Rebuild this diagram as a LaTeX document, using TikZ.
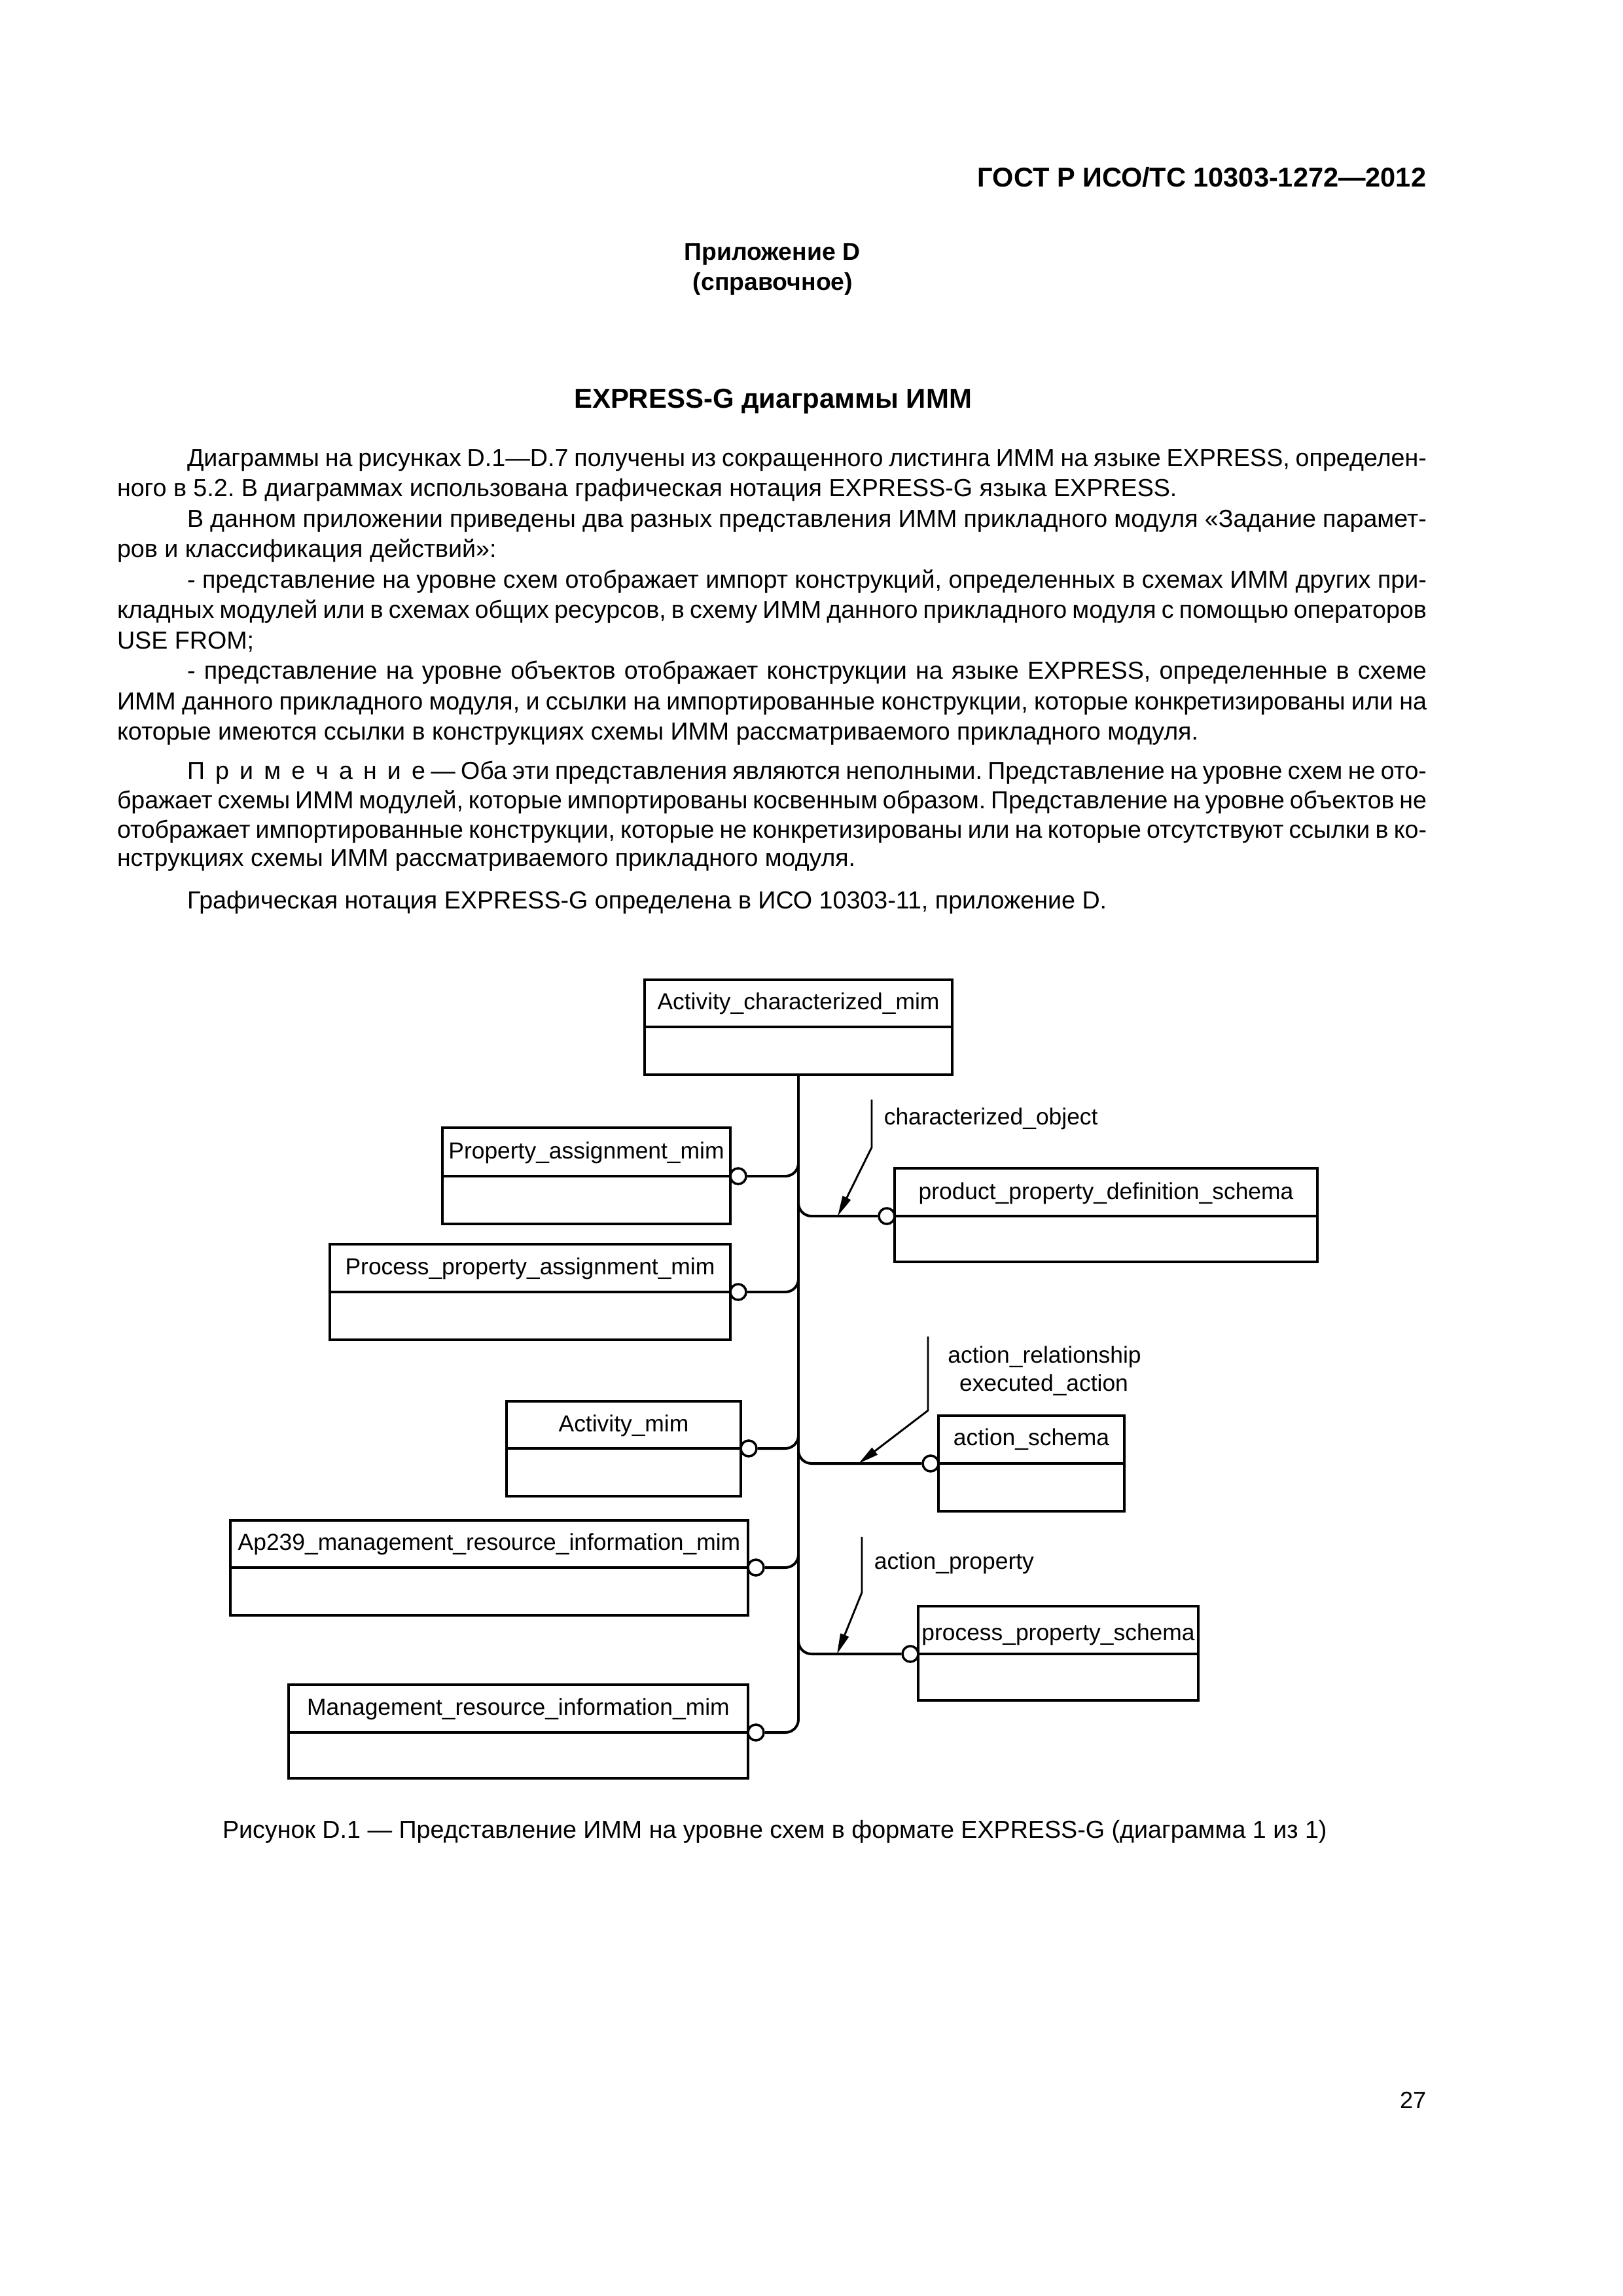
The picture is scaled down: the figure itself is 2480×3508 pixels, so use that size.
\documentclass[tikz,border=0pt]{standalone}
\usepackage{fontspec}
\setmainfont{Liberation Sans}
\usetikzlibrary{arrows.meta,calc,fit}
\frenchspacing
\newcommand\bodyfont{\fontsize{9.07}{11}\selectfont\frenchspacing\spaceskip=0.278em plus 0.4em minus 0.12em\relax}
\newcommand\notefont{\fontsize{9.03}{11}\selectfont\frenchspacing\spaceskip=0.278em plus 0.4em minus 0.13em\relax}
\newcommand\diafont{\fontsize{8.53}{10}\selectfont}
\newcommand\lsp{\kern3.9pt}
\newcommand\ent[8]{%
  \node[ebox, fit={(#2,#3) (#4,#6)}] (#1) {};
  \draw[boxline] (#2,#5) -- (#4,#5);
  \node[etext] (#1-t) at ({(#2+#4)/2},#7) {#8};
}
\begin{document}
\begin{tikzpicture}[x=0.0846667mm, y=-0.0846667mm,
  txt/.style={inner sep=0, outer sep=0, anchor=base west, font=\bodyfont},
  ntxt/.style={inner sep=0, outer sep=0, anchor=base west, font=\notefont},
  ebox/.style={draw, line width=1.05pt, inner sep=0, outer sep=0, rectangle},
  boxline/.style={line width=1.05pt},
  etext/.style={inner sep=0, anchor=base, font=\diafont},
  ltext/.style={inner sep=0, font=\diafont},
  ring/.style={circle, draw, fill=white, minimum size=5.8pt, inner sep=0, line width=0.85pt},
  conn/.style={line width=0.95pt, rounded corners=4.8pt},
  callout/.style={line width=0.7pt, -{Triangle[length=7.5pt,width=3.2pt]}}
]
\fill[white] (0,0) rectangle (2480,3508);
\useasboundingbox (0,0) rectangle (2480,3508);

% header
\node[inner sep=0, anchor=base east, font=\bfseries\fontsize{10}{12}\selectfont] (hdr) at (2180,285) {ГОСТ Р ИСО/ТС 10303-1272—2012};
\node[inner sep=0, anchor=base, font=\bfseries\fontsize{9}{10}\selectfont] (app) at (1180,397) {Приложение D};
\node[inner sep=0, anchor=base, font=\bfseries\fontsize{9}{10}\selectfont] (app2) at (1181,443) {(справочное)};
\node[inner sep=0, anchor=base, font=\bfseries\fontsize{10.1}{12}\selectfont] (title) at (1181,623) {EXPRESS-G диаграммы ИММ};

% body
\node[txt] (l1) at (286,712) {\makebox[160.36mm][s]{Диаграммы на рисунках D.1—D.7 получены из сокращенного листинга ИММ на языке EXPRESS, определен-}};
\node[txt] (l2) at (179,758.5) {ного в 5.2. В диаграммах использована графическая нотация EXPRESS-G языка EXPRESS.};
\node[txt] (l3) at (286,805) {\makebox[160.36mm][s]{В данном приложении приведены два разных представления ИММ прикладного модуля «Задание парамет-}};
\node[txt] (l4) at (179,851.5) {ров и классификация действий»:};
\node[txt] (l5) at (286,898) {\makebox[160.36mm][s]{- представление на уровне схем отображает импорт конструкций, определенных в схемах ИММ других при-}};
\node[txt] (l6) at (179,944.5) {\makebox[169.42mm][s]{кладных модулей или в схемах общих ресурсов, в схему ИММ данного прикладного модуля с помощью операторов}};
\node[txt] (l7) at (179,991) {USE FROM;};
\node[txt] (l8) at (286,1037.5) {\makebox[160.36mm][s]{- представление на уровне объектов отображает конструкции на языке EXPRESS, определенные в схеме}};
\node[txt] (l9) at (179,1084) {\makebox[169.42mm][s]{ИММ данного прикладного модуля, и ссылки на импортированные конструкции, которые конкретизированы или на}};
\node[txt] (l10) at (179,1130.5) {которые имеются ссылки в конструкциях схемы ИММ рассматриваемого прикладного модуля.};

% note
\node[ntxt] (n1) at (286,1190) {\makebox[160.36mm][s]{П\lsp р\lsp и\lsp м\lsp е\lsp ч\lsp а\lsp н\lsp и\lsp е — Оба эти представления являются неполными. Представление на уровне схем не ото-}};
\node[ntxt] (n2) at (179,1235) {\makebox[169.42mm][s]{бражает схемы ИММ модулей, которые импортированы косвенным образом. Представление на уровне объектов не}};
\node[ntxt] (n3) at (179,1280) {\makebox[169.42mm][s]{отображает импортированные конструкции, которые не конкретизированы или на которые отсутствуют ссылки в ко-}};
\node[ntxt] (n4) at (179,1323) {нструкциях схемы ИММ рассматриваемого прикладного модуля.};

\node[txt] (g1) at (286,1388) {Графическая нотация EXPRESS-G определена в ИСО 10303-11, приложение D.};

% entities
\ent{acm}{985}{1497}{1455}{1569}{1642}{1542}{Activity\_characterized\_mim}
\ent{pa}{676}{1723}{1116}{1797}{1870}{1770}{Property\_assignment\_mim}
\ent{ppa}{504}{1901}{1116}{1974}{2047}{1947}{Process\_property\_assignment\_mim}
\ent{am}{774}{2141}{1132}{2213}{2286}{2187}{Activity\_mim}
\ent{ap}{352}{2323}{1143}{2395}{2468}{2368}{Ap239\_management\_resource\_information\_mim}
\ent{mri}{441}{2574}{1143}{2647}{2717}{2620}{Management\_resource\_information\_mim}
\ent{ppd}{1367}{1785}{2013}{1858}{1928}{1832}{product\_property\_definition\_schema}
\ent{as}{1434}{2163}{1718}{2236}{2309}{2208}{action\_schema}
\ent{pps}{1403}{2454}{1831}{2527}{2598}{2506}{process\_property\_schema}

% junction coordinates on trunk
\coordinate (jpa) at (1220,1757);
\coordinate (jppa) at (1220,1934);
\coordinate (jam) at (1220,2173);
\coordinate (jap) at (1220,2355);
\coordinate (jppd) at (1220,1818);
\coordinate (jas) at (1220,2196);
\coordinate (jpps) at (1220,2487);

% rings
\node[ring] (cpa) at (1128,1797) {};
\node[ring] (cppa) at (1128,1974) {};
\node[ring] (cam) at (1144,2213) {};
\node[ring] (cap) at (1155,2395) {};
\node[ring] (cmri) at (1155,2647) {};
\node[ring] (cppd) at (1355,1858) {};
\node[ring] (cas) at (1422,2236) {};
\node[ring] (cpps) at (1391,2527) {};

% connectors
\draw[conn] (acm.south) |- (cmri.east);
\draw[conn] (jpa) |- (cpa.east);
\draw[conn] (jppa) |- (cppa.east);
\draw[conn] (jam) |- (cam.east);
\draw[conn] (jap) |- (cap.east);
\draw[conn] (jppd) |- (cppd.west);
\draw[conn] (jas) |- (cas.west);
\draw[conn] (jpps) |- (cpps.west);

% callouts
\coordinate (co1) at (1332,1680);
\coordinate (co2) at (1332,1753);
\coordinate (cot) at (1280,1858);
\draw[callout] (co1) -- (co2) -- (cot);
\coordinate (ar1) at (1418,2042);
\coordinate (ar2) at (1418,2155);
\coordinate (art) at (1312,2236);
\draw[callout] (ar1) -- (ar2) -- (art);
\coordinate (ap1) at (1317,2348);
\coordinate (ap2) at (1317,2433);
\coordinate (apt) at (1279,2527);
\draw[callout] (ap1) -- (ap2) -- (apt);

\node[ltext, anchor=base west] (lco) at (1350,1718) {characterized\_object};
\node[ltext, anchor=base] (lar) at (1596,2082) {action\_relationship};
\node[ltext, anchor=base] (lea) at (1595,2125) {executed\_action};
\node[ltext, anchor=base west] (lap) at (1335,2397) {action\_property};

% caption
\node[txt] (cap) at (340,2808) {Рисунок D.1 — Представление ИММ на уровне схем в формате EXPRESS-G (диаграмма 1 из 1)};
\node[inner sep=0, anchor=base east, font=\fontsize{8.7}{10}\selectfont] (pg) at (2180,3221) {27};
\end{tikzpicture}
\end{document}
